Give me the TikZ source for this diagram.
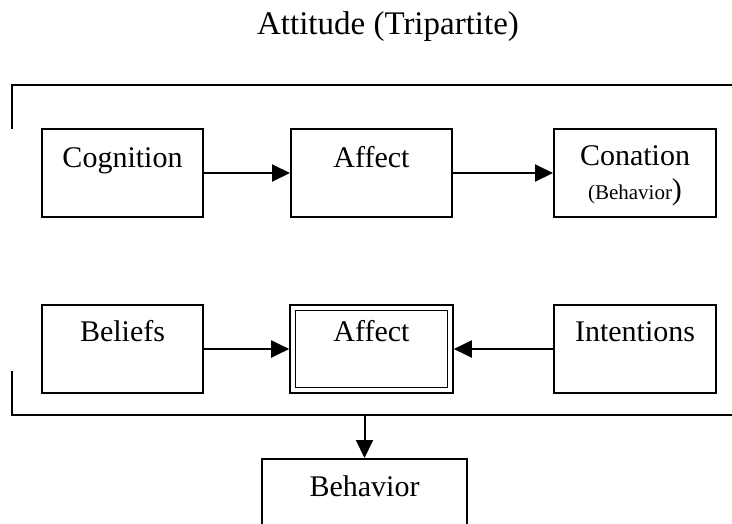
\documentclass[tikz,border=0pt]{standalone}
\usepackage{fontspec}
\setmainfont{Liberation Serif}
\usetikzlibrary{arrows.meta}
\begin{document}
\begin{tikzpicture}[x=1pt,y=-1pt,
  line width=2pt,
  box/.style={draw, line width=2pt, inner sep=0pt},
  lbl/.style={anchor=base, inner sep=0pt, font=\fontsize{30}{35}\selectfont},
  arr/.style={-{Triangle[length=18pt,width=17pt]}, line width=2pt}]
\useasboundingbox (0,0) rectangle (732,523);
\clip (0,0) rectangle (732,523);
% title
\node[anchor=base, inner sep=0pt, font=\fontsize{33}{39}\selectfont] (title) at (388,34) {Attitude (Tripartite)};
% bracket
\draw (12,129) -- (12,85) -- (734,85);
\draw (12,371) -- (12,415) -- (734,415);
\coordinate (tap) at (364.5,415);
% top row
\node[box, minimum width=161pt, minimum height=88pt] (cog) at (122.5,173) {};
\node[lbl] (cogt) at (122.5,167) {Cognition};
\node[box, minimum width=161pt, minimum height=88pt] (aff1) at (371.5,173) {};
\node[lbl] (aff1t) at (371.5,167) {Affect};
\node[box, minimum width=162pt, minimum height=88pt] (con) at (635,173) {};
\node[lbl] (cont) at (635,165) {Conation};
\node[anchor=base, inner sep=0pt] (conb) at (635,199) {\fontsize{21}{25}\selectfont(Behavior\fontsize{30}{35}\selectfont)};
\draw[arr] (cog.east) -- (aff1.west);
\draw[arr] (aff1.east) -- (con.west);
% bottom row
\node[box, minimum width=163pt, minimum height=88pt, line width=1.6pt] (aff2) at (371.5,349) {};
\node[box, minimum width=152pt, minimum height=77pt, line width=1.6pt] (aff2in) at (371.5,349) {};
\node[box, minimum width=161pt, minimum height=88pt] (bel) at (122.5,349) {};
\node[lbl] (belt) at (122.5,341) {Beliefs};
\node[lbl] (aff2t) at (371.5,341) {Affect};
\node[box, minimum width=162pt, minimum height=88pt] (int) at (635,349) {};
\node[lbl] (intt) at (635,341) {Intentions};
\draw[arr] (bel.east) -- (aff2.west);
\draw[arr] (int.west) -- (aff2.east);
% behavior
\node[box, minimum width=205pt, minimum height=100pt] (beh) at (364.5,509) {};
\node[lbl] (beht) at (364.5,496) {Behavior};
\draw[arr] (tap) -- (beh.north);
\end{tikzpicture}
\end{document}
